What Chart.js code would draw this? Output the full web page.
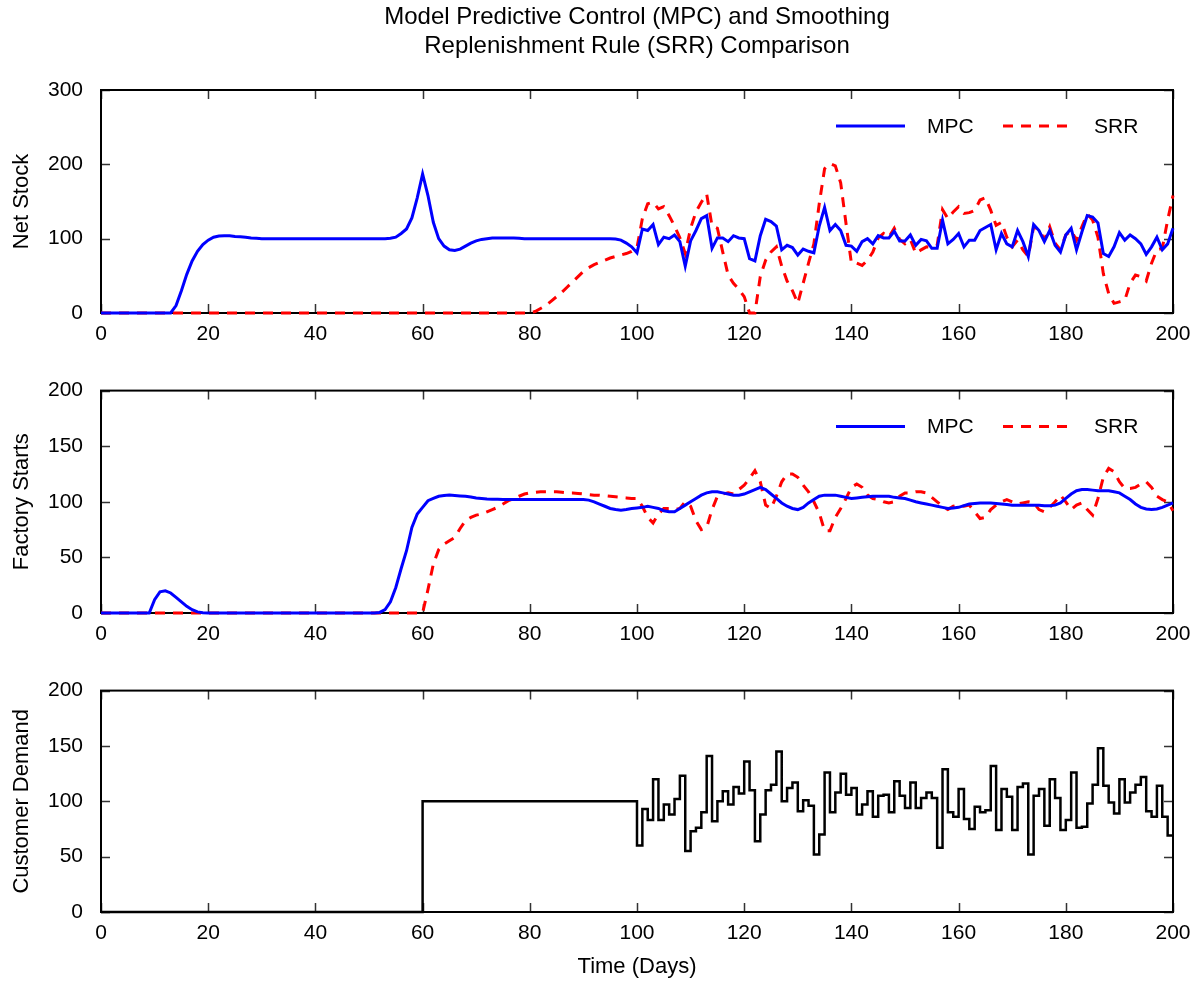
<!DOCTYPE html>
<html>
<head>
<meta charset="utf-8">
<title>MPC and SRR Comparison</title>
<script src="https://cdn.jsdelivr.net/npm/chart.js@4.4.0/dist/chart.umd.min.js"></script>
<style>
  html, body { margin: 0; padding: 0; background: #fff; }
  #wrap { position: relative; width: 1200px; height: 985px; }
  canvas { position: absolute; left: 0; }
</style>
</head>
<body>
<div id="wrap">
  <canvas id="stockChart" width="1200" height="360" style="top:0px"></canvas>
  <canvas id="startsChart" width="1200" height="300" style="top:360px"></canvas>
  <canvas id="demandChart" width="1200" height="325" style="top:660px"></canvas>
</div>
<script>
// Values, one per day (day 0 .. 200)
const mpcStock = [
  0, 0, 0, 0, 0, 0, 0, 0, 0, 0,
  0, 0, 0, 0, 10, 30, 52, 70, 83, 92,
  98, 102, 103.5, 104, 104, 103, 102.5, 102, 101, 100.5,
  100, 100, 100, 100, 100, 100, 100, 100, 100, 100,
  100, 100, 100, 100, 100, 100, 100, 100, 100, 100,
  100, 100, 100, 100, 100.5, 102, 107, 113, 128, 155,
  187, 158, 122, 100, 90, 85, 84, 86, 90, 94,
  97, 99, 100, 101, 101, 101, 101, 101, 100.5, 100,
  100, 100, 100, 100, 100, 100, 100, 100, 100, 100,
  100, 100, 100, 100, 100, 100, 99.5, 98, 94, 89,
  81, 113, 111, 119, 92, 102, 100, 105, 96, 63,
  97, 111, 127, 131, 87, 101, 101, 96, 104, 101,
  100, 73, 70, 104, 126, 123, 117, 85, 91, 88,
  78, 86, 83, 81, 117, 142, 111, 119, 111, 91,
  90, 83, 96, 100, 93, 104, 101, 101, 110, 97,
  97, 105, 91, 99, 97, 87, 87, 125, 93, 99,
  107, 89, 98, 98, 111, 115, 119, 85, 107, 93,
  89, 111, 96, 76, 119, 111, 96, 111, 91, 82,
  105, 114, 85, 109, 131, 129, 121, 80, 76, 89,
  108, 98, 105, 100, 93, 79, 89, 102, 85, 93,
  114
];
const srrStock = [
  0, 0, 0, 0, 0, 0, 0, 0, 0, 0,
  0, 0, 0, 0, 0, 0, 0, 0, 0, 0,
  0, 0, 0, 0, 0, 0, 0, 0, 0, 0,
  0, 0, 0, 0, 0, 0, 0, 0, 0, 0,
  0, 0, 0, 0, 0, 0, 0, 0, 0, 0,
  0, 0, 0, 0, 0, 0, 0, 0, 0, 0,
  0, 0, 0, 0, 0, 0, 0, 0, 0, 0,
  0, 0, 0, 0, 0, 0, 0, 0, 0, 0,
  0, 2, 6, 10, 16, 22, 28, 35, 42, 49,
  56, 61, 65, 68, 71, 74, 76, 78, 80, 83,
  88, 127, 147, 149, 140, 143, 131, 117, 101, 80,
  114, 136, 149, 160, 117, 114, 82, 51, 40, 32,
  22, 0, 0, 49, 71, 82, 89, 63, 43, 30,
  13, 40, 67, 93, 147, 194, 201, 198, 175, 120,
  67, 67, 64, 71, 82, 101, 107, 102, 114, 99,
  93, 99, 80, 85, 89, 88, 91, 139, 127, 136,
  143, 134, 135, 138, 152, 155, 138, 118, 122, 102,
  89, 98, 85, 76, 116, 112, 99, 116, 94, 85,
  105, 111, 98, 116, 133, 125, 102, 53, 26, 13,
  15, 17, 40, 51, 49, 43, 67, 85, 87, 125,
  158
];
const mpcStarts = [
  0, 0, 0, 0, 0, 0, 0, 0, 0, 0,
  12, 19, 20, 18, 14, 10, 6, 3, 1, 0.3,
  0, 0, 0, 0, 0, 0, 0, 0, 0, 0,
  0, 0, 0, 0, 0, 0, 0, 0, 0, 0,
  0, 0, 0, 0, 0, 0, 0, 0, 0, 0,
  0, 0, 0.5, 3, 10, 23, 40, 56, 77, 89,
  95, 101, 103, 105, 105.6, 106, 105.6, 105.3, 105, 104.3,
  103.5, 103, 102.5, 102.3, 102.2, 102, 102, 102, 102, 102,
  102, 102, 102, 102, 102, 102, 102, 102, 102, 102,
  102, 101.5, 100, 98, 96, 94, 93, 92.5, 93, 94,
  94.5, 95, 96, 95, 94, 92, 91, 91, 94, 97,
  100, 103, 106, 108, 109, 109, 108, 107, 106, 106,
  107, 109, 111, 113, 111, 107, 103, 99, 96, 94,
  93, 95, 99, 102, 105, 106, 106, 106, 105, 104,
  103, 103.5, 104, 104.5, 105, 105, 105, 105, 104, 103.5,
  103, 101.5, 100, 99, 98, 97, 96, 95, 94, 94.5,
  95, 96.5, 98, 98.5, 99, 99, 99, 98.5, 98, 97.5,
  97, 97, 97, 97, 97, 97, 96.5, 96.5, 97, 99,
  103, 107, 110, 111, 111, 110.5, 110, 110, 110, 109,
  108, 105, 102, 98, 95, 93.5, 93, 93.5, 95, 97,
  99
];
const srrStarts = [
  0, 0, 0, 0, 0, 0, 0, 0, 0, 0,
  0, 0, 0, 0, 0, 0, 0, 0, 0, 0,
  0, 0, 0, 0, 0, 0, 0, 0, 0, 0,
  0, 0, 0, 0, 0, 0, 0, 0, 0, 0,
  0, 0, 0, 0, 0, 0, 0, 0, 0, 0,
  0, 0, 0, 0, 0, 0, 0, 0, 0, 0,
  0, 21, 44, 57, 62, 65, 68, 76, 83, 86,
  88, 89, 91, 93, 95, 98, 101, 103, 105, 107,
  108, 108.5, 109, 109, 109, 109, 108.5, 108, 108, 107.5,
  107, 106.5, 106, 106, 105.5, 105, 104.5, 104, 103.5, 103,
  103, 96, 86, 81, 89, 94, 94, 93, 94, 100,
  96, 83, 75, 77, 93, 105, 107, 108, 107, 111,
  115, 121, 128, 118, 97, 94, 105, 118, 125, 125,
  122, 115, 109, 100, 90, 74, 74, 86, 94, 103,
  113, 116, 113, 106, 103, 102, 100, 99, 100, 105,
  108, 108, 109, 109, 108, 104, 100, 96, 93, 96,
  97, 96, 97, 91, 85, 86, 93, 97, 100, 102,
  100, 98, 99, 100, 99, 93, 91, 95, 100, 106,
  100, 93, 97, 99, 93, 88, 103, 122, 130, 127,
  118, 112, 112, 113, 116, 118, 113, 105, 102, 100,
  92
];
const demand = [
  0, 0, 0, 0, 0, 0, 0, 0, 0, 0,
  0, 0, 0, 0, 0, 0, 0, 0, 0, 0,
  0, 0, 0, 0, 0, 0, 0, 0, 0, 0,
  0, 0, 0, 0, 0, 0, 0, 0, 0, 0,
  0, 0, 0, 0, 0, 0, 0, 0, 0, 0,
  0, 0, 0, 0, 0, 0, 0, 0, 0, 0,
  100, 100, 100, 100, 100, 100, 100, 100, 100, 100,
  100, 100, 100, 100, 100, 100, 100, 100, 100, 100,
  100, 100, 100, 100, 100, 100, 100, 100, 100, 100,
  100, 100, 100, 100, 100, 100, 100, 100, 100, 100,
  60, 93, 83, 120, 83, 97, 88, 102, 123, 55,
  73, 76, 90, 141, 82, 100, 109, 97, 113, 107,
  136, 110, 64, 88, 110, 115, 145, 100, 112, 117,
  91, 101, 96, 52, 70, 126, 90, 108, 125, 106,
  112, 88, 97, 109, 86, 105, 106, 90, 118, 105,
  94, 117, 94, 103, 108, 103, 58, 129, 90, 86,
  111, 84, 75, 95, 90, 92, 132, 74, 111, 104,
  74, 113, 116, 52, 105, 111, 78, 120, 103, 74,
  83, 126, 76, 77, 98, 115, 148, 114, 99, 89,
  120, 99, 108, 115, 122, 91, 86, 114, 86, 69,
  69
];
const days = demand.map((_, i) => i);
const titleLines = ["Model Predictive Control (MPC) and Smoothing", "Replenishment Rule (SRR) Comparison"];

const FONT = "'Liberation Sans', Arial, Helvetica, sans-serif";
Chart.defaults.font.family = FONT;
Chart.defaults.color = "#000";

function toPoints(values) {
  return values.map((v, i) => ({ x: days[i], y: v }));
}

// box around the plot, with the ticks pointing inward on all four sides
// (drawn under the lines, so the zero lines sit on top of the axis)
const framePlugin = {
  id: "frame",
  beforeDatasetsDraw(chart) {
    const { ctx, chartArea: a, scales } = chart;
    const len = 9;
    ctx.save();
    ctx.strokeStyle = "#333";
    ctx.lineWidth = 1.5;
    ctx.beginPath();
    scales.x.ticks.forEach((t) => {
      const px = Math.round(scales.x.getPixelForValue(t.value)) + 0.5;
      ctx.moveTo(px, a.bottom);
      ctx.lineTo(px, a.bottom - len);
      ctx.moveTo(px, a.top);
      ctx.lineTo(px, a.top + len);
    });
    scales.y.ticks.forEach((t) => {
      const py = Math.round(scales.y.getPixelForValue(t.value)) + 0.5;
      ctx.moveTo(a.left, py);
      ctx.lineTo(a.left + len, py);
      ctx.moveTo(a.right, py);
      ctx.lineTo(a.right - len, py);
    });
    ctx.stroke();
    ctx.strokeStyle = "#000";
    ctx.lineWidth = 2;
    ctx.strokeRect(a.left, a.top, a.right - a.left, a.bottom - a.top);
    ctx.restore();
  },
};

// legend drawn inside the plot, top right
const keyPlugin = {
  id: "lineKey",
  afterDatasetsDraw(chart, args, opts) {
    if (!opts.show) return;
    const { ctx, chartArea: a } = chart;
    const y = a.top + 36;
    let x = a.right - 337;
    ctx.save();
    ctx.font = "21px " + FONT;
    ctx.textBaseline = "middle";
    ctx.textAlign = "left";
    ctx.fillStyle = "#000";
    chart.data.datasets.forEach((ds) => {
      ctx.strokeStyle = ds.borderColor;
      ctx.lineWidth = ds.borderWidth;
      ctx.setLineDash(ds.borderDash || []);
      ctx.beginPath();
      ctx.moveTo(x, y);
      ctx.lineTo(x + 69, y);
      ctx.stroke();
      ctx.setLineDash([]);
      ctx.fillText(ds.label, x + 91, y + 1);
      x += 167;
    });
    ctx.restore();
  },
};

function mpcSet(values) {
  return { label: "MPC", data: toPoints(values), borderColor: "#0000ff", borderWidth: 3, clip: 4 };
}
function srrSet(values) {
  return { label: "SRR", data: toPoints(values), borderColor: "#ff0000", borderWidth: 3, borderDash: [10, 8], clip: 4 };
}

function makePanel(id, cfg) {
  return new Chart(document.getElementById(id), {
    type: "line",
    data: { datasets: cfg.datasets },
    options: {
      responsive: false,
      animation: false,
      events: [],
      layout: { padding: { top: cfg.padTop, right: 27, left: 0, bottom: 0 } },
      elements: { point: { radius: 0 }, line: { tension: 0 } },
      plugins: {
        legend: { display: false },
        tooltip: { enabled: false },
        title: cfg.title
          ? {
              display: true,
              text: cfg.title,
              fullSize: false,
              color: "#000",
              font: { size: 24, weight: "normal", lineHeight: 1.2 },
              padding: { top: 3, bottom: 29.4 },
            }
          : { display: false },
        lineKey: { show: cfg.key },
      },
      scales: {
        x: {
          type: "linear",
          min: 0,
          max: 200,
          grid: { display: false, drawTicks: false },
          border: { display: false },
          ticks: { stepSize: 20, font: { size: 21 }, padding: 9, maxRotation: 0 },
          title: cfg.xTitle
            ? { display: true, text: cfg.xTitle, font: { size: 22 }, padding: { top: 0, bottom: 5 } }
            : { display: false },
          afterFit: (s) => { s.height = cfg.xHeight; },
        },
        y: {
          min: 0,
          max: cfg.yMax,
          grid: { display: false, drawTicks: false },
          border: { display: false },
          ticks: { stepSize: cfg.yStep, font: { size: 21 }, padding: 18 },
          title: { display: true, text: cfg.yTitle, font: { size: 22 }, padding: { top: 9, bottom: 0 } },
          afterFit: (s) => { s.width = 101; },
        },
      },
    },
    plugins: [framePlugin, keyPlugin],
  });
}

makePanel("stockChart", {
  datasets: [mpcSet(mpcStock), srrSet(srrStock)],
  title: titleLines,
  padTop: 0,
  xHeight: 47,
  yMax: 300,
  yStep: 100,
  yTitle: "Net Stock",
  key: true,
});

makePanel("startsChart", {
  datasets: [mpcSet(mpcStarts), srrSet(srrStarts)],
  padTop: 28,
  xHeight: 47,
  yMax: 200,
  yStep: 50,
  yTitle: "Factory Starts",
  key: true,
});

makePanel("demandChart", {
  datasets: [
    { label: "Demand", data: toPoints(demand), borderColor: "#000", borderWidth: 2.5, stepped: "before", clip: 4 },
  ],
  padTop: 27,
  xHeight: 73,
  yMax: 200,
  yStep: 50,
  yTitle: "Customer Demand",
  xTitle: "Time (Days)",
  key: false,
});
</script>
</body>
</html>
